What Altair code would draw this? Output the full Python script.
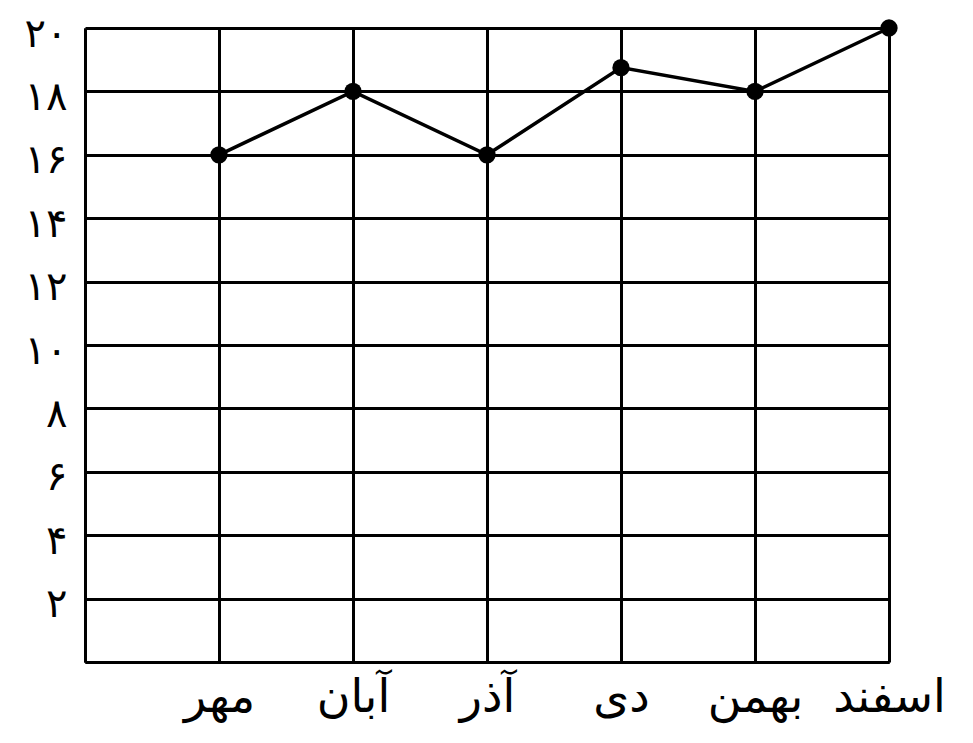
import altair as alt
import pandas as pd

months = ["مهر", "آبان", "آذر", "دی", "بهمن", "اسفند"]
positions = [1, 2, 3, 4, 5, 6]
grades = [16, 18, 16, 18.75, 18, 20]
y_ticks = [0, 2, 4, 6, 8, 10, 12, 14, 16, 18, 20]
y_labels = ["", "۲", "۴", "۶", "۸", "۱۰", "۱۲", "۱۴", "۱۶", "۱۸", "۲۰"]
x_ticks = [0, 1, 2, 3, 4, 5, 6]
x_labels = [""] + months

df = pd.DataFrame({"pos": positions, "month": months, "grade": grades})

ylab_js = "[" + ",".join("'" + s + "'" for s in y_labels) + "]"
xlab_js = "[" + ",".join("'" + s + "'" for s in x_labels) + "]"

font = "DejaVu Sans"

x_enc = alt.X(
    "pos:Q",
    scale=alt.Scale(domain=[0, 6], nice=False, zero=False),
    axis=alt.Axis(
        values=x_ticks,
        labelExpr=f"{xlab_js}[round(datum.value)]",
        title=None,
        grid=True,
        gridColor="black",
        gridWidth=3,
        gridOpacity=1,
        domainColor="black",
        domainWidth=3,
        ticks=False,
        labelFont=font,
        labelFontSize=46,
        labelColor="black",
        labelPadding=13,
        labelAlign="center",
        labelFlush=False,
        labelOverlap=False,
    ),
)
y_enc = alt.Y(
    "grade:Q",
    scale=alt.Scale(domain=[0, 20], nice=False),
    axis=alt.Axis(
        values=y_ticks,
        labelExpr=f"{ylab_js}[round(datum.value/2)]",
        title=None,
        grid=True,
        gridColor="black",
        gridWidth=3,
        gridOpacity=1,
        domainColor="black",
        domainWidth=3,
        ticks=False,
        labelFont=font,
        labelFontSize=40,
        labelColor="black",
        labelPadding=18,
        labelOffset=6,
        labelFlush=False,
        labelOverlap=False,
        labelBaseline="middle",
    ),
)

line = alt.Chart(df).mark_line(color="black", strokeWidth=3.5).encode(x=x_enc, y=y_enc)
pts = alt.Chart(df).mark_circle(color="black", opacity=1, size=300).encode(x="pos:Q", y="grade:Q")

chart = (
    alt.layer(line, pts)
    .properties(
        width=804,
        height=634,
        autosize=alt.AutoSizeParams(type="none"),
        padding={"left": 77, "top": 20, "right": 70, "bottom": 70},
    )
    .configure_view(stroke="black", strokeWidth=3)
    .configure(background="white")
)

chart.save("out.html", embed_options={"renderer": "svg", "actions": False})
